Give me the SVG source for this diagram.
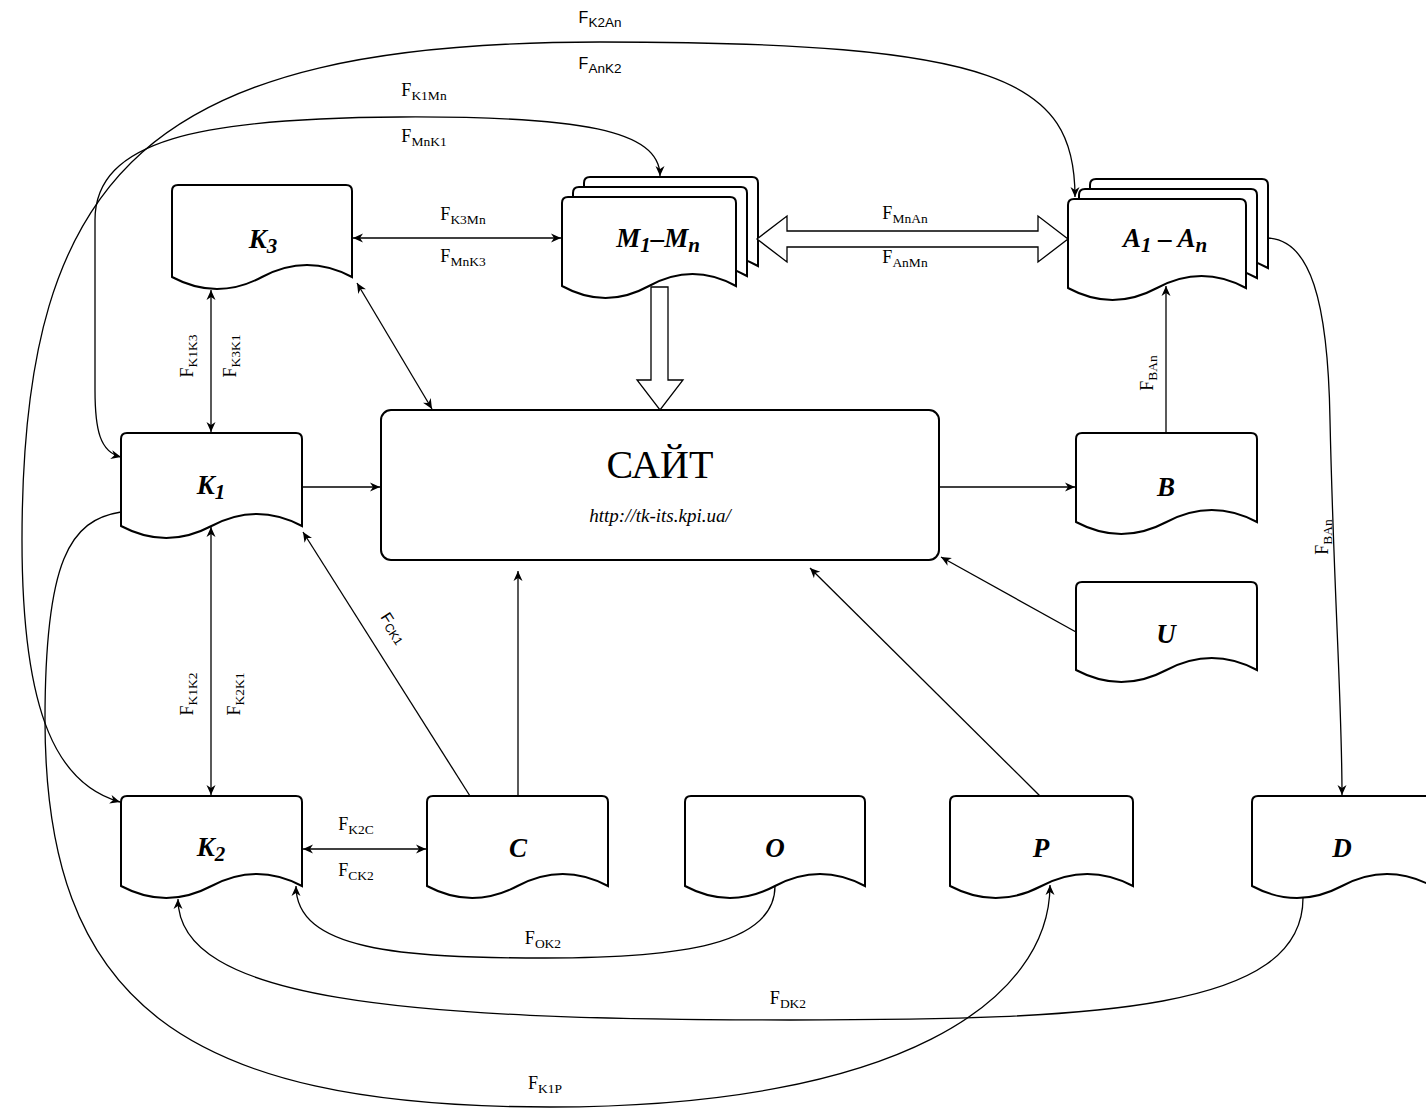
<svg xmlns="http://www.w3.org/2000/svg" width="1426" height="1109" viewBox="0 0 1426 1109">
<style>
.n{fill:#fff;stroke:#000;stroke-width:2}
.l{fill:none;stroke:#000;stroke-width:1.3}
.bk{fill:#fff;stroke:#000;stroke-width:1.3}
.t{font-family:"Liberation Serif",serif;font-weight:bold;font-style:italic;font-size:27px;text-anchor:middle}
.ts{font-size:21px}
.f{font-family:"Liberation Serif",serif;font-size:18px;text-anchor:middle}
.fs{font-family:"Liberation Sans",sans-serif;font-size:16px;text-anchor:middle}
.s{font-size:13.5px}
</style>
<defs>
<marker id="a" viewBox="0 0 10 10" refX="10" refY="5" markerWidth="10" markerHeight="10" markerUnits="userSpaceOnUse" orient="auto-start-reverse"><path d="M0,0.5 L10,5 L0,9.5 L3,5 Z" fill="#000"/></marker>
</defs>
<rect width="1426" height="1109" fill="#fff"/>

<g id="K3"><path class="n" d="M172,277 L172,191 Q172,185 178,185 L346,185 Q352,185 352,191 L352,277 Q307,253 262,277 Q217,301 172,277 Z"/><text class="t" x="263" y="248">K<tspan class="ts" dy="5">3</tspan></text></g>
<g id="M"><path class="n" d="M584,266 L584,183 Q584,177 590,177 L752,177 Q758,177 758,183 L758,266 Q714.5,242 671,266 Q627.5,290 584,266 Z"/><path class="n" d="M573,276 L573,193 Q573,187 579,187 L741,187 Q747,187 747,193 L747,276 Q703.5,252 660,276 Q616.5,300 573,276 Z"/><path class="n" d="M562,286 L562,203 Q562,197 568,197 L730,197 Q736,197 736,203 L736,286 Q692.5,262 649,286 Q605.5,310 562,286 Z"/><text class="t" x="658" y="247">M<tspan class="ts" dy="5">1</tspan><tspan dy="-5">–M</tspan><tspan class="ts" dy="5">n</tspan></text></g>
<g id="A"><path class="n" d="M1090,268 L1090,185 Q1090,179 1096,179 L1262,179 Q1268,179 1268,185 L1268,268 Q1223.5,244 1179,268 Q1134.5,292 1090,268 Z"/><path class="n" d="M1079,278 L1079,195 Q1079,189 1085,189 L1251,189 Q1257,189 1257,195 L1257,278 Q1212.5,254 1168,278 Q1123.5,302 1079,278 Z"/><path class="n" d="M1068,288 L1068,205 Q1068,199 1074,199 L1240,199 Q1246,199 1246,205 L1246,288 Q1201.5,264 1157,288 Q1112.5,312 1068,288 Z"/><text class="t" x="1165" y="247">A<tspan class="ts" dy="5">1</tspan><tspan dy="-5"> – A</tspan><tspan class="ts" dy="5">n</tspan></text></g>
<g id="K1"><path class="n" d="M121,526 L121,439 Q121,433 127,433 L296,433 Q302,433 302,439 L302,526 Q256.75,502 211.5,526 Q166.25,550 121,526 Z"/><text class="t" x="211" y="494">K<tspan class="ts" dy="5">1</tspan></text></g>
<g id="SITE"><rect class="n" x="381" y="410" width="558" height="150" rx="10"/><text x="660" y="478" font-family="Liberation Serif,serif" font-size="40" text-anchor="middle">САЙТ</text><text x="660" y="522" font-family="Liberation Serif,serif" font-style="italic" font-size="19" text-anchor="middle">http://tk-its.kpi.ua/</text></g>
<g id="B"><path class="n" d="M1076,522 L1076,439 Q1076,433 1082,433 L1251,433 Q1257,433 1257,439 L1257,522 Q1211.75,498 1166.5,522 Q1121.25,546 1076,522 Z"/><text class="t" x="1166" y="496">B</text></g>
<g id="U"><path class="n" d="M1076,670 L1076,588 Q1076,582 1082,582 L1251,582 Q1257,582 1257,588 L1257,670 Q1211.75,646 1166.5,670 Q1121.25,694 1076,670 Z"/><text class="t" x="1166" y="643">U</text></g>
<g id="K2"><path class="n" d="M121,886 L121,802 Q121,796 127,796 L296,796 Q302,796 302,802 L302,886 Q256.75,862 211.5,886 Q166.25,910 121,886 Z"/><text class="t" x="211" y="856">K<tspan class="ts" dy="5">2</tspan></text></g>
<g id="C"><path class="n" d="M427,886 L427,802 Q427,796 433,796 L602,796 Q608,796 608,802 L608,886 Q562.75,862 517.5,886 Q472.25,910 427,886 Z"/><text class="t" x="518" y="857">C</text></g>
<g id="O"><path class="n" d="M685,886 L685,802 Q685,796 691,796 L859,796 Q865,796 865,802 L865,886 Q820,862 775,886 Q730,910 685,886 Z"/><text class="t" x="775" y="857">O</text></g>
<g id="P"><path class="n" d="M950,886 L950,802 Q950,796 956,796 L1127,796 Q1133,796 1133,802 L1133,886 Q1087.25,862 1041.5,886 Q995.75,910 950,886 Z"/><text class="t" x="1041" y="857">P</text></g>
<g id="D"><path class="n" d="M1252,886 L1252,802 Q1252,796 1258,796 L1426,796 Q1432,796 1432,802 L1432,886 Q1387,862 1342,886 Q1297,910 1252,886 Z"/><text class="t" x="1342" y="857">D</text></g>

<g id="connectors">
<path class="l" d="M353,238 L561,238" marker-start="url(#a)" marker-end="url(#a)"/>
<polygon class="bk" points="757,239 787,216 787,231 1038,231 1038,216 1068,239 1038,262 1038,247 787,247 787,262"/>
<polygon class="bk" points="651,287 668,287 668,380 683,380 660,410 637,380 651,380"/>
<path class="l" d="M211,290 L211,432" marker-start="url(#a)" marker-end="url(#a)"/>
<path class="l" d="M357,283 L432,409" marker-start="url(#a)" marker-end="url(#a)"/>
<path class="l" d="M302,487 L380,487" marker-end="url(#a)"/>
<path class="l" d="M211,527 L211,795" marker-start="url(#a)" marker-end="url(#a)"/>
<path class="l" d="M470,796 L303,532" marker-end="url(#a)"/>
<path class="l" d="M518,796 L518,571" marker-end="url(#a)"/>
<path class="l" d="M303,849 L426,849" marker-start="url(#a)" marker-end="url(#a)"/>
<path class="l" d="M1040,796 L810,568" marker-end="url(#a)"/>
<path class="l" d="M1076,632 L941,557" marker-end="url(#a)"/>
<path class="l" d="M939,487 L1075,487" marker-end="url(#a)"/>
<path class="l" d="M1166,433 L1166,286" marker-end="url(#a)"/>
<path class="l" d="M1268,238 C1310,240 1328,300 1330,420 C1334,600 1342,700 1342,795" marker-end="url(#a)"/>
<path class="l" d="M775,886 C775,945 680,958 545,958 C400,958 296,950 296,886" marker-end="url(#a)"/>
<path class="l" d="M1303,898 C1303,1010 1100,1020 790,1020 C400,1020 178,1000 178,899" marker-end="url(#a)"/>
<path class="l" d="M121,512 C70,520 45,560 45,720 C45,1000 180,1107 550,1107 C900,1107 1050,1000 1050,885" marker-end="url(#a)"/>
<path class="l" d="M120,802 C60,785 22,720 22,540 C22,170 150,42 600,42 C1000,42 1075,80 1075,197" marker-start="url(#a)" marker-end="url(#a)"/>
<path class="l" d="M121,457 C100,452 95,430 95,390 L95,220 C95,140 200,118 400,117 C580,116 660,130 660,176" marker-start="url(#a)" marker-end="url(#a)"/>

<text class="fs" x="600" y="23">F<tspan class="s" dy="4">K2An</tspan></text>
<text class="fs" x="600" y="69">F<tspan class="s" dy="4">AnK2</tspan></text>
<text class="f" x="424" y="96">F<tspan class="s" dy="4">K1Mn</tspan></text>
<text class="f" x="424" y="142">F<tspan class="s" dy="4">MnK1</tspan></text>
<text class="f" x="463" y="220">F<tspan class="s" dy="4">K3Mn</tspan></text>
<text class="f" x="463" y="262">F<tspan class="s" dy="4">MnK3</tspan></text>
<text class="f" x="905" y="219">F<tspan class="s" dy="4">MnAn</tspan></text>
<text class="f" x="905" y="263">F<tspan class="s" dy="4">AnMn</tspan></text>
<text class="f" x="356" y="830">F<tspan class="s" dy="4">K2C</tspan></text>
<text class="f" x="356" y="876">F<tspan class="s" dy="4">CK2</tspan></text>
<text class="f" x="543" y="944">F<tspan class="s" dy="4">OK2</tspan></text>
<text class="f" x="788" y="1004">F<tspan class="s" dy="4">DK2</tspan></text>
<text class="f" x="545" y="1089">F<tspan class="s" dy="4">K1P</tspan></text>
<text class="f" transform="translate(193,356) rotate(-90)">F<tspan class="s" dy="4">K1K3</tspan></text>
<text class="f" transform="translate(236,356) rotate(-90)">F<tspan class="s" dy="4">K3K1</tspan></text>
<text class="f" transform="translate(193,694) rotate(-90)">F<tspan class="s" dy="4">K1K2</tspan></text>
<text class="f" transform="translate(240,694) rotate(-90)">F<tspan class="s" dy="4">K2K1</tspan></text>
<text class="f" transform="translate(1153,373) rotate(-90)">F<tspan class="s" dy="4">BAn</tspan></text>
<text class="f" transform="translate(1328,537) rotate(-90)">F<tspan class="s" dy="4">BAn</tspan></text>
<text class="fs" font-size="14" transform="translate(389,631) rotate(57)">F<tspan font-size="12" dy="2">CK1</tspan></text>
</g>
</svg>
